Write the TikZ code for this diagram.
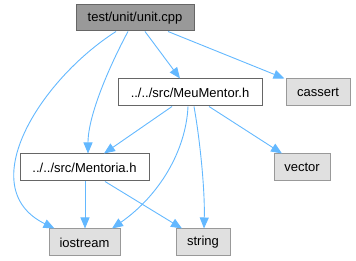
\documentclass[tikz,border=0pt]{standalone}
\usepackage{fontspec}
\setmainfont{Liberation Sans}
\usetikzlibrary{arrows.meta}
\definecolor{edgeblue}{HTML}{63B8FF}
\definecolor{rootfill}{HTML}{999999}
\definecolor{darkborder}{HTML}{666666}
\definecolor{sysfill}{HTML}{E0E0E0}
\definecolor{sysborder}{HTML}{999999}
\begin{document}
\begin{tikzpicture}[x=1pt,y=-1pt,
  every node/.style={font=\fontsize{13}{15}\selectfont, inner sep=0pt, line width=1pt},
  rootbox/.style={draw=darkborder, fill=rootfill, minimum width=118pt, minimum height=26pt},
  filebox/.style={draw=darkborder, fill=white, minimum height=27pt},
  sysbox/.style={draw=sysborder, fill=sysfill, minimum height=27pt},
  dep/.style={draw=edgeblue, line width=0.9pt, -{Triangle[length=11pt,width=9pt]}}]
\useasboundingbox (0,0) rectangle (356,261);

% files
\node[rootbox] (unit) at (135,18) {test/unit/unit.cpp};
\node[filebox, minimum width=144pt] (meu) at (190,92.5) {../../src/MeuMentor.h};
\node[sysbox, minimum width=64pt] (cassert) at (318,92.5) {cassert};
\node[filebox, minimum width=129pt] (men) at (84.5,167.5) {../../src/Mentoria.h};
\node[sysbox, minimum width=56pt] (vector) at (302,167.5) {vector};
\node[sysbox, minimum width=71pt] (io) at (84.5,242.5) {iostream};
\node[sysbox, minimum width=54pt] (str) at (203,242.5) {string};

% includes of unit.cpp
\draw[dep] ([xshift=10pt]unit.south) -- ([xshift=-10pt]meu.north);
\draw[dep] ([xshift=33pt]unit.south) -- ([xshift=-1pt]cassert.north west);
\draw[dep] ([xshift=-7pt]unit.south) .. controls (110,65) and (88,115) .. ([xshift=3.5pt]men.north);
\draw[dep] ([xshift=-19pt]unit.south) .. controls (40,80) and (-28,188) .. ([xshift=6pt]io.north west);

% includes of MeuMentor.h
\draw[dep] ([xshift=-18pt]meu.south) -- ([xshift=19.5pt]men.north);
\draw[dep] ([xshift=-2pt]meu.south) .. controls (186,150) and (160,195) .. ([xshift=27.5pt]io.north);
\draw[dep] ([xshift=4pt]meu.south) .. controls (200,140) and (205,190) .. ([xshift=1pt]str.north);
\draw[dep] ([xshift=19pt]meu.south) -- ([xshift=-20pt]vector.north);

% includes of Mentoria.h
\draw[dep] ([xshift=0.5pt]men.south) -- ([xshift=0.5pt]io.north);
\draw[dep] ([xshift=20.5pt]men.south) -- ([xshift=-21pt]str.north);
\end{tikzpicture}
\end{document}
